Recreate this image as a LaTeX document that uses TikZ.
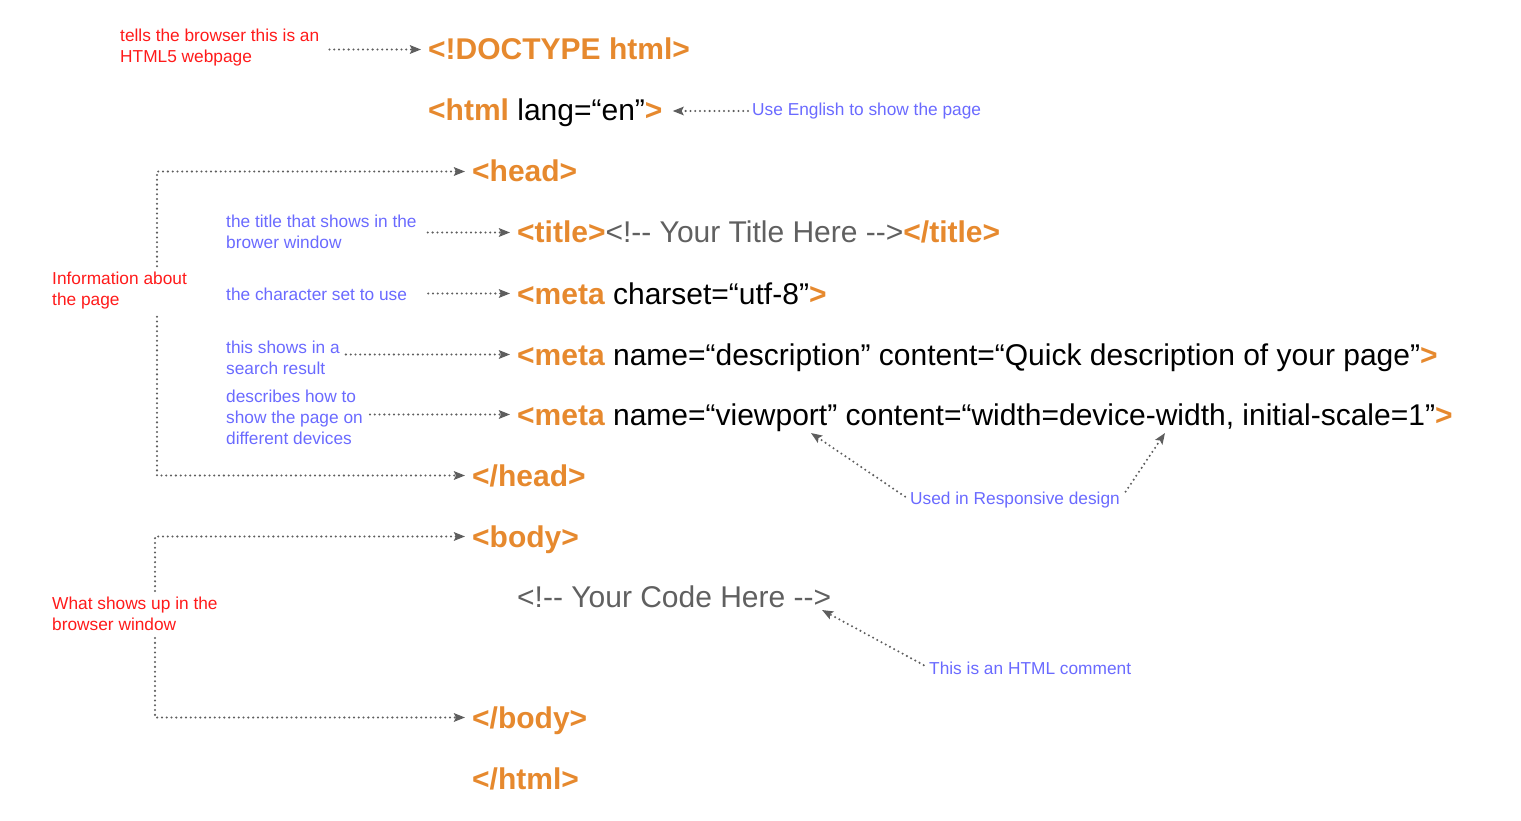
\documentclass[tikz,border=0pt]{standalone}
\usepackage{fontspec}
\setmainfont{Liberation Sans}[Ligatures=TeXOff]
\usetikzlibrary{arrows.meta}

\definecolor{tagorange}{HTML}{E6892E}
\definecolor{notered}{HTML}{FF1A1A}
\definecolor{noteblue}{HTML}{6A6AFF}
\definecolor{commentgray}{HTML}{606060}
\definecolor{arrowgray}{HTML}{5E5E5E}

\newcommand{\tg}[1]{{\bfseries\color{tagorange}#1}}
\newcommand{\cmt}[1]{{\color{commentgray}#1}}

\begin{document}
\begin{tikzpicture}[x=1pt,y=-1pt,
    tagline/.style={anchor=base west,inner sep=0pt,text height=21pt,text depth=0pt,
      font=\fontsize{30}{36}\selectfont},
    rednote/.style={anchor=west,inner sep=0pt,align=left,text=notered,
      font=\fontsize{17.3}{21}\selectfont},
    bluenote/.style={rednote,text=noteblue},
    conn/.style={arrowgray,line width=2.3pt,line cap=round,dash pattern=on 0pt off 4.8pt,
      -{Stealth[length=11pt,width=8.5pt,inset=2pt]},shorten >=7pt,shorten <=8pt}]
  \useasboundingbox (0,0) rectangle (1521,821);

  % the page source
  \node[tagline] (doctype) at (428,60) {\tg{<!DOCTYPE html>}};
  \node[tagline] (htmlopen) at (428,121) {\tg{<html} lang=“en”\tg{>}};
  \node[tagline] (headopen) at (472,182) {\tg{<head>}};
  \node[tagline] (title) at (517,243) {\tg{<title>}\cmt{<!-- Your Title Here -->}\tg{</title>}};
  \node[tagline] (charset) at (517,304) {\tg{<meta} charset=“utf-8”\tg{>}};
  \node[tagline] (desc) at (517,365) {\tg{<meta} name=“description” content=“Quick description of your page”\tg{>}};
  \node[tagline] (viewport) at (517,425) {\tg{<meta} name=“viewport” content=“width=device-width, initial-scale=1”\tg{>}};
  \node[tagline] (headclose) at (472,486) {\tg{</head>}};
  \node[tagline] (bodyopen) at (472,547) {\tg{<body>}};
  \node[tagline] (codecmt) at (517,607) {\cmt{<!-- Your Code Here -->}};
  \node[tagline] (bodyclose) at (472,728) {\tg{</body>}};
  \node[tagline] (htmlclose) at (472,789) {\tg{</html>}};

  % notes
  \node[rednote] (doctypenote) at (120,48) {tells the browser this is an\\HTML5 webpage};
  \node[bluenote] (langnote) at (752,111) {Use English to show the page};
  \node[rednote] (headnote) at (52,291) {Information about\\the page};
  \node[bluenote] (titlenote) at (226,232) {the title that shows in the\\brower window};
  \node[bluenote] (charsetnote) at (226,294) {the character set to use};
  \node[bluenote] (descnote) at (226,358) {this shows in a\\search result};
  \node[bluenote] (viewportnote) at (226,417) {describes how to\\show the page on\\different devices};
  \node[bluenote] (respnote) at (910,500) {Used in Responsive design};
  \node[rednote] (bodynote) at (52,614) {What shows up in the\\browser window};
  \node[bluenote] (commentnote) at (929,668) {This is an HTML comment};

  \coordinate (headrail) at (157,0);
  \coordinate (bodyrail) at (155,0);
  \coordinate (vpword) at (811,433);
  \coordinate (dwword) at (1165,433);
  \coordinate (cmtend) at (822,610);

  % arrows
  \draw[conn,shorten <=10pt] (doctype.west -| doctypenote.east) -- (doctype.west);
  \draw[conn,shorten <=4pt,shorten >=10pt] (langnote.west) -- (langnote.west -| htmlopen.east);
  \draw[conn,shorten <=6pt] (headnote.north -| headrail) |- (headopen.west);
  \draw[conn,shorten <=7pt] (headnote.south -| headrail) |- (headclose.west);
  \draw[conn,shorten <=11pt] (title.west -| titlenote.east) -- (title.west);
  \draw[conn,shorten <=21pt] (charset.west -| charsetnote.east) -- (charset.west);
  \draw[conn,shorten <=6pt] (desc.west -| descnote.east) -- (desc.west);
  \draw[conn,shorten <=7pt] (viewport.west -| viewportnote.east) -- (viewport.west);
  \draw[conn,shorten <=6pt,shorten >=0pt] (respnote.west) -- (vpword);
  \draw[conn,shorten <=10pt,shorten >=0pt] (respnote.east) -- (dwword);
  \draw[conn,shorten <=6pt] (bodynote.north -| bodyrail) |- (bodyopen.west);
  \draw[conn,shorten <=7pt] (bodynote.south -| bodyrail) |- (bodyclose.west);
  \draw[conn,shorten <=6pt,shorten >=0pt] (commentnote.west) -- (cmtend);
\end{tikzpicture}
\end{document}
